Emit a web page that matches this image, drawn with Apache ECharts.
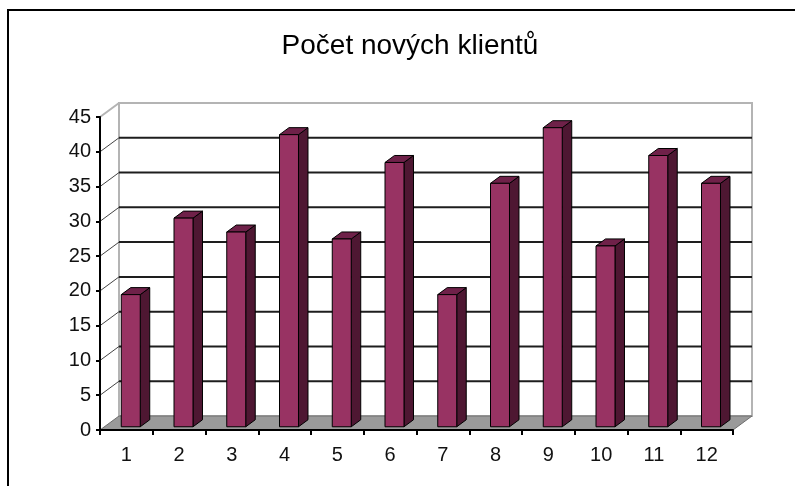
<!DOCTYPE html>
<html>
<head>
<meta charset="utf-8">
<script src="https://cdn.jsdelivr.net/npm/echarts@6/dist/echarts.min.js"></script>
<style>
  html, body { margin: 0; padding: 0; background: #fff; }
  #chart { width: 795px; height: 486px; }
</style>
</head>
<body>
<div id="chart"></div>
<script>
// data
const categories = ['1', '2', '3', '4', '5', '6', '7', '8', '9', '10', '11', '12']
const values = [19, 30, 28, 42, 27, 38, 19, 35, 43, 26, 39, 35]
const yTicks = [0, 5, 10, 15, 20, 25, 30, 35, 40, 45]

// fake 3d depth (pixels), back wall is shifted by this
const DX = 19
const DY = -14
const FONT = 'Liberation Sans, Arial, sans-serif'

const chart = echarts.init(document.getElementById('chart'))

// walls, gridlines, floor
function renderFrame (params, api) {
  const bw = api.size([1, 0])[0]
  const left = api.coord([0, 0])[0] - bw / 2
  const right = api.coord([categories.length - 1, 0])[0] + bw / 2
  const y0 = api.coord([0, yTicks[0]])[1]
  const yMax = api.coord([0, yTicks[yTicks.length - 1]])[1]
  const children = []
  // back wall
  children.push({
    type: 'rect',
    shape: { x: left + DX, y: yMax + DY, width: right - left, height: y0 - yMax },
    style: { fill: '#fff', stroke: '#b4b4b4', lineWidth: 2 }
  })
  yTicks.forEach(function (t, k) {
    const y = api.coord([0, t])[1]
    if (k > 0 && k < yTicks.length - 1) {
      children.push({
        type: 'line',
        shape: { x1: left + DX, y1: y + DY, x2: right + DX, y2: y + DY },
        style: { stroke: '#1e1e1e', lineWidth: 2 }
      })
    }
    if (k > 0) {
      children.push({
        type: 'line',
        shape: { x1: left, y1: y, x2: left + DX, y2: y + DY },
        style: { stroke: k === yTicks.length - 1 ? '#b4b4b4' : '#444', lineWidth: k === yTicks.length - 1 ? 2 : 1 }
      })
    }
  })
  // floor
  children.push({
    type: 'polygon',
    shape: { points: [[left, y0], [right, y0], [right + DX, y0 + DY], [left + DX, y0 + DY]] },
    style: { fill: '#9a9a9a', stroke: '#6e6e6e', lineWidth: 1 }
  })
  return { type: 'group', children: children }
}

// 3d looking column
function renderBar (params, api) {
  const i = api.value(0)
  const top = api.coord([i, api.value(1)])
  const base = api.coord([i, 0])
  const bw = api.size([1, 0])[0]
  const w = bw * 0.36
  const x0 = top[0] - w / 2 + DX * 0.23
  const x1 = x0 + w
  const yT = top[1] + DY * 0.23
  const yB = base[1] + DY * 0.23
  const sx = DX * 0.5
  const sy = DY * 0.5
  return {
    type: 'group',
    children: [
      {
        type: 'polygon',
        shape: { points: [[x1, yT], [x1 + sx, yT + sy], [x1 + sx, yB + sy], [x1, yB]] },
        style: { fill: '#4e1732', stroke: '#000', lineWidth: 1 }
      },
      {
        type: 'polygon',
        shape: { points: [[x0, yT], [x1, yT], [x1 + sx, yT + sy], [x0 + sx, yT + sy]] },
        style: { fill: '#6f2149', stroke: '#000', lineWidth: 1 }
      },
      {
        type: 'rect',
        shape: { x: x0, y: yT, width: w, height: yB - yT },
        style: { fill: '#983363', stroke: '#000', lineWidth: 1 }
      }
    ]
  }
}

const option = {
  animation: false,
  backgroundColor: '#fff',
  title: {
    text: 'Počet nových klientů',
    left: 405,
    top: 27,
    textAlign: 'center',
    textStyle: { fontFamily: FONT, fontSize: 28, fontWeight: 'normal', color: '#000' }
  },
  graphic: [
    {
      type: 'rect',
      shape: { x: 8, y: 10, width: 820, height: 520 },
      style: { fill: 'none', stroke: '#000', lineWidth: 2 },
      silent: true
    }
  ],
  grid: { left: 100, right: 62, top: 117, bottom: 56 },
  xAxis: {
    type: 'category',
    data: categories,
    z: 5,
    axisLine: { lineStyle: { color: '#000', width: 2 } },
    axisTick: { show: true, length: 5, lineStyle: { color: '#000', width: 2 } },
    axisLabel: { fontFamily: FONT, fontSize: 20, color: '#111', margin: 15 }
  },
  yAxis: {
    type: 'value',
    min: 0,
    max: 45,
    interval: 5,
    z: 5,
    axisLine: { show: true, lineStyle: { color: '#000', width: 2 } },
    axisTick: { show: true, length: 4, lineStyle: { color: '#000', width: 2 } },
    axisLabel: { fontFamily: FONT, fontSize: 20, color: '#111', margin: 9 },
    splitLine: { show: false }
  },
  series: [
    {
      type: 'custom',
      z: 1,
      renderItem: renderFrame,
      data: [[0, 0]],
      silent: true
    },
    {
      type: 'custom',
      z: 3,
      renderItem: renderBar,
      encode: { x: 0, y: 1 },
      data: values.map(function (v, i) { return [i, v] })
    }
  ]
}

chart.setOption(option)
</script>
</body>
</html>
